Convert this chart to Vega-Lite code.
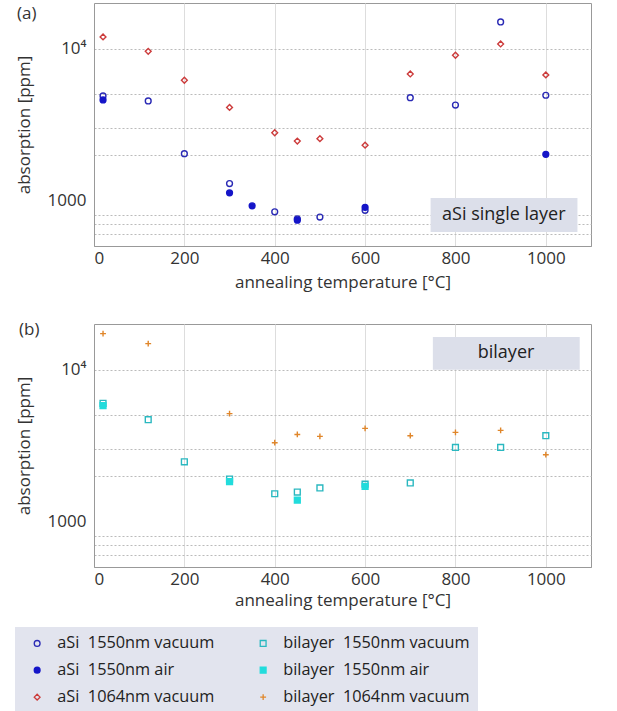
{
  "$schema": "https://vega.github.io/schema/vega-lite/v6.json",
  "background": "white",
  "padding": {"left": 14, "top": 2, "right": 10, "bottom": 0},
  "config": {
    "font": "Open Sans",
    "view": {"stroke": "#999", "strokeWidth": 1},
    "axis": {"labelFont": "Open Sans", "titleFont": "Open Sans", "labelFontSize": 17, "titleFontSize": 17, "titleFontWeight": "normal", "labelColor": "#333", "titleColor": "#333", "domainColor": "#999", "ticks": false, "grid": true},
    "title": {"font": "Open Sans", "fontSize": 17, "fontWeight": "normal", "color": "#333"},
    "legend": {"labelLimit": 400}
  },
  "datasets": {
    "pts": [
      {"series": "aSi\u00a0\u00a01550nm vacuum", "layer": "aSi", "T": 20, "A": 4880},
      {"series": "aSi\u00a0\u00a01550nm vacuum", "layer": "aSi", "T": 120, "A": 4520},
      {"series": "aSi\u00a0\u00a01550nm vacuum", "layer": "aSi", "T": 200, "A": 2030},
      {"series": "aSi\u00a0\u00a01550nm vacuum", "layer": "aSi", "T": 300, "A": 1290},
      {"series": "aSi\u00a0\u00a01550nm vacuum", "layer": "aSi", "T": 400, "A": 840},
      {"series": "aSi\u00a0\u00a01550nm vacuum", "layer": "aSi", "T": 450, "A": 755},
      {"series": "aSi\u00a0\u00a01550nm vacuum", "layer": "aSi", "T": 500, "A": 776},
      {"series": "aSi\u00a0\u00a01550nm vacuum", "layer": "aSi", "T": 600, "A": 860},
      {"series": "aSi\u00a0\u00a01550nm vacuum", "layer": "aSi", "T": 700, "A": 4750},
      {"series": "aSi\u00a0\u00a01550nm vacuum", "layer": "aSi", "T": 800, "A": 4250},
      {"series": "aSi\u00a0\u00a01550nm vacuum", "layer": "aSi", "T": 900, "A": 15000},
      {"series": "aSi\u00a0\u00a01550nm vacuum", "layer": "aSi", "T": 1000, "A": 4930},
      {"series": "aSi\u00a0\u00a01550nm air", "layer": "aSi", "T": 20, "A": 4590},
      {"series": "aSi\u00a0\u00a01550nm air", "layer": "aSi", "T": 300, "A": 1120},
      {"series": "aSi\u00a0\u00a01550nm air", "layer": "aSi", "T": 350, "A": 920},
      {"series": "aSi\u00a0\u00a01550nm air", "layer": "aSi", "T": 450, "A": 740},
      {"series": "aSi\u00a0\u00a01550nm air", "layer": "aSi", "T": 600, "A": 900},
      {"series": "aSi\u00a0\u00a01550nm air", "layer": "aSi", "T": 1000, "A": 2010},
      {"series": "aSi\u00a0\u00a01064nm vacuum", "layer": "aSi", "T": 20, "A": 11950},
      {"series": "aSi\u00a0\u00a01064nm vacuum", "layer": "aSi", "T": 120, "A": 9600},
      {"series": "aSi\u00a0\u00a01064nm vacuum", "layer": "aSi", "T": 200, "A": 6190},
      {"series": "aSi\u00a0\u00a01064nm vacuum", "layer": "aSi", "T": 300, "A": 4100},
      {"series": "aSi\u00a0\u00a01064nm vacuum", "layer": "aSi", "T": 400, "A": 2790},
      {"series": "aSi\u00a0\u00a01064nm vacuum", "layer": "aSi", "T": 450, "A": 2460},
      {"series": "aSi\u00a0\u00a01064nm vacuum", "layer": "aSi", "T": 500, "A": 2550},
      {"series": "aSi\u00a0\u00a01064nm vacuum", "layer": "aSi", "T": 600, "A": 2310},
      {"series": "aSi\u00a0\u00a01064nm vacuum", "layer": "aSi", "T": 700, "A": 6810},
      {"series": "aSi\u00a0\u00a01064nm vacuum", "layer": "aSi", "T": 800, "A": 9050},
      {"series": "aSi\u00a0\u00a01064nm vacuum", "layer": "aSi", "T": 900, "A": 10740},
      {"series": "aSi\u00a0\u00a01064nm vacuum", "layer": "aSi", "T": 1000, "A": 6710},
      {"series": "bilayer\u00a0\u00a01550nm vacuum", "layer": "bi", "T": 20, "A": 6000},
      {"series": "bilayer\u00a0\u00a01550nm vacuum", "layer": "bi", "T": 120, "A": 4680},
      {"series": "bilayer\u00a0\u00a01550nm vacuum", "layer": "bi", "T": 200, "A": 2470},
      {"series": "bilayer\u00a0\u00a01550nm vacuum", "layer": "bi", "T": 300, "A": 1900},
      {"series": "bilayer\u00a0\u00a01550nm vacuum", "layer": "bi", "T": 400, "A": 1520},
      {"series": "bilayer\u00a0\u00a01550nm vacuum", "layer": "bi", "T": 450, "A": 1560},
      {"series": "bilayer\u00a0\u00a01550nm vacuum", "layer": "bi", "T": 500, "A": 1660},
      {"series": "bilayer\u00a0\u00a01550nm vacuum", "layer": "bi", "T": 600, "A": 1760},
      {"series": "bilayer\u00a0\u00a01550nm vacuum", "layer": "bi", "T": 700, "A": 1790},
      {"series": "bilayer\u00a0\u00a01550nm vacuum", "layer": "bi", "T": 800, "A": 3070},
      {"series": "bilayer\u00a0\u00a01550nm vacuum", "layer": "bi", "T": 900, "A": 3070},
      {"series": "bilayer\u00a0\u00a01550nm vacuum", "layer": "bi", "T": 1000, "A": 3670},
      {"series": "bilayer\u00a0\u00a01550nm air", "layer": "bi", "T": 20, "A": 5800},
      {"series": "bilayer\u00a0\u00a01550nm air", "layer": "bi", "T": 300, "A": 1830},
      {"series": "bilayer\u00a0\u00a01550nm air", "layer": "bi", "T": 450, "A": 1380},
      {"series": "bilayer\u00a0\u00a01550nm air", "layer": "bi", "T": 600, "A": 1700},
      {"series": "bilayer\u00a0\u00a01064nm vacuum", "layer": "bi", "T": 20, "A": 17280},
      {"series": "bilayer\u00a0\u00a01064nm vacuum", "layer": "bi", "T": 120, "A": 14840},
      {"series": "bilayer\u00a0\u00a01064nm vacuum", "layer": "bi", "T": 300, "A": 5130},
      {"series": "bilayer\u00a0\u00a01064nm vacuum", "layer": "bi", "T": 400, "A": 3300},
      {"series": "bilayer\u00a0\u00a01064nm vacuum", "layer": "bi", "T": 450, "A": 3740},
      {"series": "bilayer\u00a0\u00a01064nm vacuum", "layer": "bi", "T": 500, "A": 3630},
      {"series": "bilayer\u00a0\u00a01064nm vacuum", "layer": "bi", "T": 600, "A": 4100},
      {"series": "bilayer\u00a0\u00a01064nm vacuum", "layer": "bi", "T": 700, "A": 3670},
      {"series": "bilayer\u00a0\u00a01064nm vacuum", "layer": "bi", "T": 800, "A": 3860},
      {"series": "bilayer\u00a0\u00a01064nm vacuum", "layer": "bi", "T": 900, "A": 3980},
      {"series": "bilayer\u00a0\u00a01064nm vacuum", "layer": "bi", "T": 1000, "A": 2750}
    ]
  },
  "vconcat": [
    {
      "width": 497,
      "height": 243,
      "title": {"text": "(a)", "anchor": "start", "frame": "group", "dx": -77, "dy": 24},
      "layer": [
        {
          "data": {"values": [{"label": "aSi single layer"}]},
          "mark": {"type": "rect", "fill": "#dcdfea"},
          "encoding": {
            "x": {"datum": 745, "type": "quantitative", "scale": {"domain": [0, 1100], "nice": false}},
            "x2": {"datum": 1070},
            "y": {"datum": 1035, "type": "quantitative", "scale": {"type": "log", "domain": [500, 20000], "nice": false}},
            "y2": {"datum": 618}
          }
        },
        {
          "data": {"values": [{"label": "aSi single layer"}]},
          "mark": {"type": "text", "fontSize": 18, "font": "Open Sans", "color": "#222"},
          "encoding": {
            "x": {"datum": 907, "type": "quantitative"},
            "y": {"datum": 800, "type": "quantitative"},
            "text": {"field": "label"}
          }
        },
        {
          "data": {"name": "pts"},
          "transform": [{"filter": "datum.layer == 'aSi'"}],
          "mark": {"type": "point", "strokeWidth": 1.4, "opacity": 1},
          "encoding": {
            "x": {"field": "T", "type": "quantitative", "scale": {"domain": [0, 1100], "nice": false},
              "axis": {"title": "annealing temperature [°C]", "values": [0, 200, 400, 600, 800, 1000], "format": "d", "grid": true, "gridColor": "#ddd", "labelPadding": 4, "titlePadding": 8}},
            "y": {"field": "A", "type": "quantitative", "scale": {"type": "log", "domain": [500, 20000], "nice": false},
              "axis": {"title": "absorption [ppm]", "values": [600, 700, 800, 900, 1000, 2000, 3000, 5000, 10000], "labelExpr": "datum.value == 10000 ? '10⁴' : datum.value == 1000 ? '1000' : ''", "grid": true, "gridDash": [2, 2], "gridColor": "#bbb", "gridOpacity": {"condition": {"test": "datum.value == 900 || datum.value == 1000", "value": 0}, "value": 1}, "labelPadding": 8, "titlePadding": 14}},
            "stroke": {"field": "series", "type": "nominal", "scale": {"domain": ["aSi\u00a0\u00a01550nm vacuum", "aSi\u00a0\u00a01550nm air", "aSi\u00a0\u00a01064nm vacuum", "bilayer\u00a0\u00a01550nm vacuum", "bilayer\u00a0\u00a01550nm air", "bilayer\u00a0\u00a01064nm vacuum"], "range": ["#2a2ab5", "#1515c8", "#cc3b3b", "#2ab8c0", "#22dcdc", "#e0862a"]},
              "legend": {"title": null, "orient": "none", "legendX": -79, "legendY": 624, "columns": 2, "fillColor": "#e2e4ee", "padding": 8, "symbolOffset": 6, "labelFontSize": 16.3, "labelFont": "Open Sans", "labelColor": "#222", "labelLimit": 400, "rowPadding": 10, "columnPadding": 34, "labelOffset": 12, "symbolStrokeWidth": 1.3}},
            "fill": {"field": "series", "type": "nominal", "scale": {"domain": ["aSi\u00a0\u00a01550nm vacuum", "aSi\u00a0\u00a01550nm air", "aSi\u00a0\u00a01064nm vacuum", "bilayer\u00a0\u00a01550nm vacuum", "bilayer\u00a0\u00a01550nm air", "bilayer\u00a0\u00a01064nm vacuum"], "range": ["transparent", "#1515c8", "transparent", "transparent", "#22dcdc", "transparent"]},
              "legend": {"title": null, "orient": "none", "legendX": -79, "legendY": 624, "columns": 2, "fillColor": "#e2e4ee", "padding": 8, "symbolOffset": 6, "labelFontSize": 16.3, "labelFont": "Open Sans", "labelColor": "#222", "labelLimit": 400, "rowPadding": 10, "columnPadding": 34, "labelOffset": 12, "symbolStrokeWidth": 1.3}},
            "shape": {"field": "series", "type": "nominal", "scale": {"domain": ["aSi\u00a0\u00a01550nm vacuum", "aSi\u00a0\u00a01550nm air", "aSi\u00a0\u00a01064nm vacuum", "bilayer\u00a0\u00a01550nm vacuum", "bilayer\u00a0\u00a01550nm air", "bilayer\u00a0\u00a01064nm vacuum"], "range": ["circle", "circle", "diamond", "square", "square", "M-1,0L1,0M0,-1L0,1"]},
              "legend": {"title": null, "orient": "none", "legendX": -79, "legendY": 624, "columns": 2, "fillColor": "#e2e4ee", "padding": 8, "symbolOffset": 6, "labelFontSize": 16.3, "labelFont": "Open Sans", "labelColor": "#222", "labelLimit": 400, "rowPadding": 10, "columnPadding": 34, "labelOffset": 12, "symbolStrokeWidth": 1.3}},
            "size": {"field": "series", "type": "nominal", "scale": {"domain": ["aSi\u00a0\u00a01550nm vacuum", "aSi\u00a0\u00a01550nm air", "aSi\u00a0\u00a01064nm vacuum", "bilayer\u00a0\u00a01550nm vacuum", "bilayer\u00a0\u00a01550nm air", "bilayer\u00a0\u00a01064nm vacuum"], "range": [34, 34, 90, 45, 45, 110]},
              "legend": {"title": null, "orient": "none", "legendX": -79, "legendY": 624, "columns": 2, "fillColor": "#e2e4ee", "padding": 8, "symbolOffset": 6, "labelFontSize": 16.3, "labelFont": "Open Sans", "labelColor": "#222", "labelLimit": 400, "rowPadding": 10, "columnPadding": 34, "labelOffset": 12, "symbolStrokeWidth": 1.3}}
          }
        }
      ]
    },
    {
      "width": 497,
      "height": 243,
      "title": {"text": "(b)", "anchor": "start", "frame": "group", "dx": -75, "dy": 19},
      "layer": [
        {
          "data": {"values": [{"label": "bilayer"}]},
          "mark": {"type": "rect", "fill": "#dcdfea"},
          "encoding": {
            "x": {"datum": 750, "type": "quantitative", "scale": {"domain": [0, 1100], "nice": false}},
            "x2": {"datum": 1075},
            "y": {"datum": 16400, "type": "quantitative", "scale": {"type": "log", "domain": [500, 20000], "nice": false}},
            "y2": {"datum": 10000}
          }
        },
        {
          "data": {"values": [{"label": "bilayer"}]},
          "mark": {"type": "text", "fontSize": 18, "font": "Open Sans", "color": "#222"},
          "encoding": {
            "x": {"datum": 912, "type": "quantitative"},
            "y": {"datum": 12800, "type": "quantitative"},
            "text": {"field": "label"}
          }
        },
        {
          "data": {"name": "pts"},
          "transform": [{"filter": "datum.layer == 'bi'"}],
          "mark": {"type": "point", "strokeWidth": 1.4, "opacity": 1},
          "encoding": {
            "x": {"field": "T", "type": "quantitative", "scale": {"domain": [0, 1100], "nice": false},
              "axis": {"title": "annealing temperature [°C]", "values": [0, 200, 400, 600, 800, 1000], "format": "d", "grid": true, "gridColor": "#ddd", "labelPadding": 4, "titlePadding": 5}},
            "y": {"field": "A", "type": "quantitative", "scale": {"type": "log", "domain": [500, 20000], "nice": false},
              "axis": {"title": "absorption [ppm]", "values": [600, 700, 800, 900, 1000, 2000, 3000, 5000, 10000], "labelExpr": "datum.value == 10000 ? '10⁴' : datum.value == 1000 ? '1000' : ''", "grid": true, "gridDash": [2, 2], "gridColor": "#bbb", "gridOpacity": {"condition": {"test": "datum.value == 900 || datum.value == 1000", "value": 0}, "value": 1}, "labelPadding": 8, "titlePadding": 14}},
            "stroke": {"field": "series", "type": "nominal"},
            "fill": {"field": "series", "type": "nominal"},
            "shape": {"field": "series", "type": "nominal"},
            "size": {"field": "series", "type": "nominal"}
          }
        }
      ]
    }
  ],
  "spacing": 78,
  "bounds": "flush"
}
